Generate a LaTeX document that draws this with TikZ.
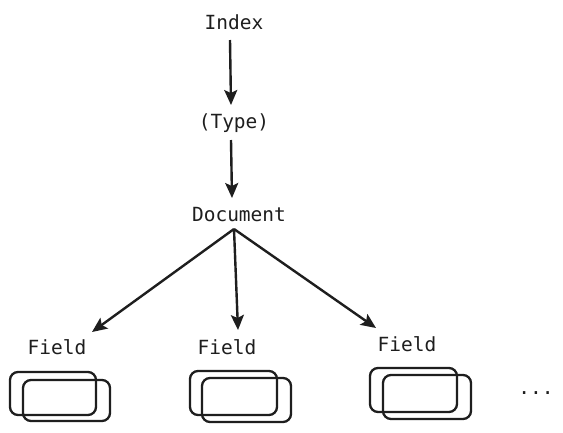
\documentclass[tikz,border=0pt]{standalone}
\usepackage{fontspec}
\setmonofont{DejaVu Sans Mono}
\usetikzlibrary{arrows.meta}
\definecolor{ink}{HTML}{1E1E1E}
\tikzset{
  lbl/.style={font=\ttfamily\fontsize{19.5}{22}\selectfont, text=ink, inner sep=0pt},
  conn/.style={draw=ink, line width=2.4pt, -{Stealth[length=15pt,width=13pt,inset=3pt]}},
  card/.style={draw=ink, line width=2.3pt, rounded corners=8pt},
}
\begin{document}
\begin{tikzpicture}[x=1pt,y=-1pt]
\useasboundingbox[fill=white] (0,0) rectangle (563,432);
\node[lbl] (index) at (234,22) {Index};
\node[lbl] (type) at (234,123) {(Type)};
\node[lbl] (doc) at (239,215) {Document};
\node[lbl] (f1) at (57,347) {Field};
\node[lbl] (f2) at (227,347) {Field};
\node[lbl] (f3) at (407,344) {Field};
\node[lbl] (dots) at (536,393) {...};
\coordinate (dtop) at (234,229);
\coordinate (e1) at (92,332);
\coordinate (e2) at (238,330);
\coordinate (e3) at (376,328);
\draw[conn] (230,40) -- (231,105);
\draw[conn] (231,140) -- (232,198);
\draw[conn] (dtop) -- (e1);
\draw[conn] (dtop) -- (e2);
\draw[conn] (dtop) -- (e3);
% cards
\draw[card] (10,372) rectangle (96,415);
\draw[card] (23,380) rectangle (110,421);
\draw[card] (190,371) rectangle (277,415);
\draw[card] (202,378) rectangle (291,422);
\draw[card] (370,368) rectangle (457,412);
\draw[card] (383,375) rectangle (471,419);
\end{tikzpicture}
\end{document}
